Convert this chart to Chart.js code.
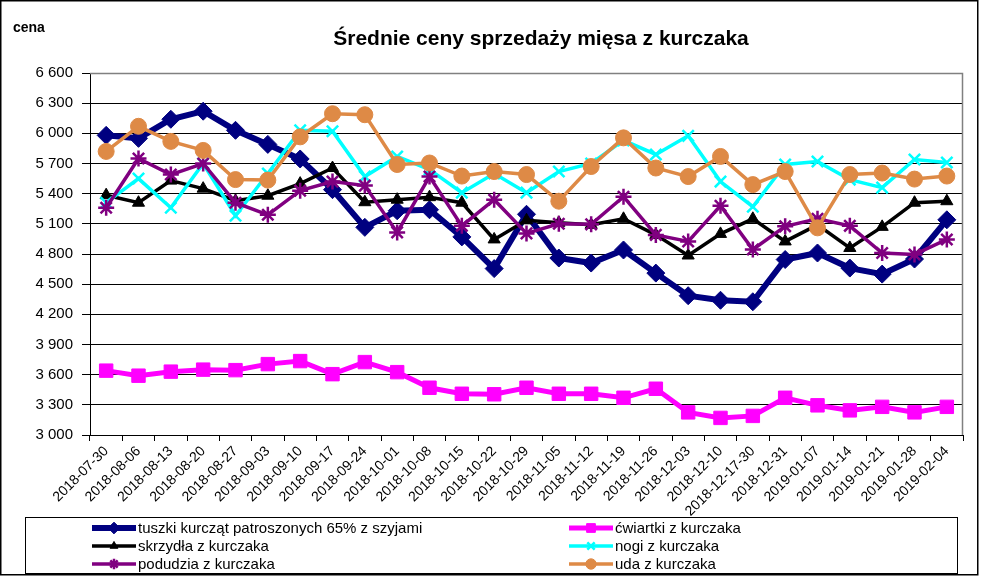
<!DOCTYPE html>
<html>
<head>
<meta charset="utf-8">
<script src="https://cdn.jsdelivr.net/npm/chart.js@4.4.1/dist/chart.umd.min.js"></script>
<style>
  html, body { margin: 0; padding: 0; background: #fff; }
  #wrap { width: 981px; height: 576px; }
</style>
</head>
<body>
<div id="wrap"><canvas id="c" width="981" height="576"></canvas></div>
<script>
// weekly average prices
const weeks = ['2018-07-30', '2018-08-06', '2018-08-13', '2018-08-20', '2018-08-27', '2018-09-03',
  '2018-09-10', '2018-09-17', '2018-09-24', '2018-10-01', '2018-10-08', '2018-10-15', '2018-10-22',
  '2018-10-29', '2018-11-05', '2018-11-12', '2018-11-19', '2018-11-26', '2018-12-03', '2018-12-10',
  '2018-12-17-30', '2018-12-31', '2019-01-07', '2019-01-14', '2019-01-21', '2019-01-28', '2019-02-04'];

const tuszki = [5980, 5950, 6140, 6220, 6030, 5890, 5745, 5440, 5065, 5230, 5240, 4970, 4655, 5195,
  4760, 4710, 4840, 4610, 4385, 4340, 4325, 4745, 4810, 4660, 4600, 4750, 5140];
const cwiartki = [3640, 3590, 3630, 3650, 3645, 3705, 3735, 3605, 3725, 3625, 3470, 3410, 3405, 3470,
  3410, 3410, 3370, 3460, 3225, 3170, 3190, 3370, 3295, 3245, 3280, 3225, 3280];
const skrzydla = [5385, 5310, 5530, 5450, 5330, 5380, 5500, 5655, 5315, 5340, 5365, 5310, 4945, 5135,
  5110, 5090, 5150, 4990, 4785, 5000, 5150, 4925, 5090, 4860, 5070, 5310, 5325];
const nogi = [5310, 5550, 5260, 5700, 5180, 5600, 6030, 6020, 5570, 5770, 5640, 5410, 5600, 5410,
  5620, 5700, 5930, 5790, 5975, 5520, 5270, 5690, 5720, 5540, 5460, 5740, 5710];
const podudzia = [5260, 5750, 5590, 5700, 5310, 5190, 5430, 5520, 5480, 5015, 5570, 5080, 5340, 5005,
  5100, 5095, 5370, 4990, 4925, 5280, 4845, 5075, 5150, 5080, 4810, 4795, 4945];
const uda = [5820, 6070, 5920, 5830, 5540, 5535, 5965, 6195, 6185, 5690, 5705, 5575, 5620, 5590,
  5325, 5670, 5955, 5655, 5570, 5770, 5490, 5620, 5060, 5590, 5605, 5545, 5575];

const chartTitle = 'Średnie ceny sprzedaży mięsa z kurczaka';
const yTitle = 'cena';
const FONT = '"Liberation Sans", Arial, sans-serif';

function series(label, data, color, style, radius, width, order) {
  return {
    label, data, order,
    borderColor: color,
    backgroundColor: color,
    pointBackgroundColor: color,
    pointBorderColor: color,
    borderWidth: width,
    pointStyle: style,
    pointRadius: radius,
    pointBorderWidth: style === 'crossRot' || style === 'star' ? 2.5 : 1,
    tension: 0
  };
}

// legend order (row by row, two columns)
const datasets = [
  series('tuszki kurcząt patroszonych 65% z szyjami', tuszki, '#000080', 'rectRot', 9, 6, 5),
  series('ćwiartki z kurczaka', cwiartki, '#FF00FF', 'rect', 9.5, 5, 4),
  series('skrzydła z kurczaka', skrzydla, '#000000', 'triangle', 7, 3.5, 3),
  series('nogi z kurczaka', nogi, '#00FFFF', 'crossRot', 8, 3.5, 2),
  series('podudzia z kurczaka', podudzia, '#800080', 'star', 8, 3.5, 1),
  series('uda z kurczaka', uda, '#DE8A46', 'circle', 8, 3.5, 0)
];

const decor = {
  id: 'decor',
  afterDatasetsDraw(chart) {
    const { ctx, chartArea: a } = chart;
    ctx.save();
    ctx.strokeStyle = '#808080';
    ctx.lineWidth = 1.5;
    ctx.beginPath();
    ctx.moveTo(a.left, a.top + 0.5);
    ctx.lineTo(a.right - 0.5, a.top + 0.5);
    ctx.lineTo(a.right - 0.5, a.bottom);
    ctx.stroke();
    ctx.restore();
  },
  afterDraw(chart) {
    const ctx = chart.ctx;
    ctx.save();
    // outer frame
    ctx.strokeStyle = '#000';
    ctx.lineWidth = 1.5;
    ctx.strokeRect(0.75, 0.75, 977, 574);
    // title and axis caption
    ctx.fillStyle = '#000';
    ctx.textBaseline = 'middle';
    ctx.textAlign = 'center';
    ctx.font = 'bold 21px ' + FONT;
    ctx.fillText(chartTitle, 541, 39);
    ctx.textAlign = 'left';
    ctx.font = 'bold 14px ' + FONT;
    ctx.fillText(yTitle, 13, 28);
    // boxed legend, two columns
    ctx.lineWidth = 1;
    ctx.strokeRect(25.5, 517.5, 932, 56);
    chart.data.datasets.forEach((ds, i) => {
      const x0 = i % 2 ? 569 : 92;
      const y = 528 + Math.floor(i / 2) * 18;
      ctx.strokeStyle = ds.borderColor;
      ctx.fillStyle = ds.pointBackgroundColor;
      ctx.lineWidth = ds.borderWidth;
      ctx.beginPath();
      ctx.moveTo(x0, y);
      ctx.lineTo(x0 + 44, y);
      ctx.stroke();
      ctx.lineWidth = ds.pointBorderWidth;
      Chart.helpers.drawPoint(ctx, {
        pointStyle: ds.pointStyle, radius: ds.pointRadius * 0.65,
        borderWidth: ds.pointBorderWidth, rotation: 0
      }, x0 + 22, y);
      ctx.fillStyle = '#000';
      ctx.font = '15px ' + FONT;
      ctx.textAlign = 'left';
      ctx.textBaseline = 'middle';
      ctx.fillText(ds.label, x0 + 46, y + 1);
    });
    ctx.restore();
  }
};

new Chart(document.getElementById('c'), {
  type: 'line',
  data: { labels: weeks, datasets },
  options: {
    responsive: false,
    animation: false,
    layout: { padding: { top: 73, left: 0, right: 18, bottom: 0 } },
    plugins: {
      legend: { display: false },
      title: { display: false },
      tooltip: { enabled: false }
    },
    scales: {
      x: {
        offset: true,
        afterFit(scale) { scale.height = 141; },
        grid: { drawOnChartArea: false, offset: true, color: '#000', tickLength: 6 },
        border: { color: '#000', width: 1 },
        ticks: {
          autoSkip: false, maxRotation: 45, minRotation: 45, padding: 2,
          color: '#000', font: { family: FONT, size: 14 }
        }
      },
      y: {
        min: 3000,
        max: 6600,
        afterFit(scale) { scale.width = 90; },
        grid: { color: '#000', lineWidth: 1, tickLength: 8 },
        border: { color: '#000', width: 1 },
        ticks: {
          stepSize: 300, padding: 9, color: '#000',
          font: { family: FONT, size: 15 },
          callback: v => String(v).replace(/\B(?=(\d{3})+(?!\d))/g, ' ')
        }
      }
    }
  },
  plugins: [decor]
});
</script>
</body>
</html>
